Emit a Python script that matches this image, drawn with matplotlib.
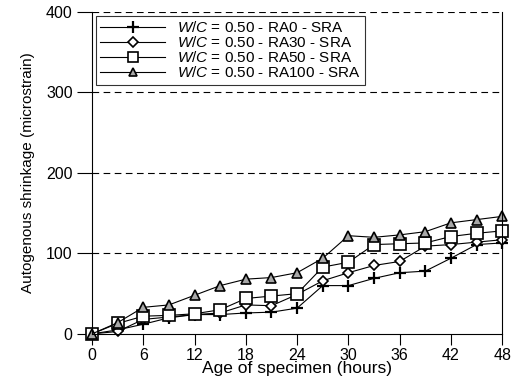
import matplotlib
matplotlib.use('Agg')
import matplotlib.pyplot as plt
import numpy as np

plt.rcParams['font.family'] = ['Liberation Sans', 'DejaVu Sans']
plt.rcParams['mathtext.fontset'] = 'custom'
plt.rcParams['mathtext.it'] = 'Liberation Sans:italic'
plt.rcParams['mathtext.rm'] = 'Liberation Sans'

hours = [0, 3, 6, 9, 12, 15, 18, 21, 24, 27, 30, 33, 36, 39, 42, 45, 48]

ra0 = [0, 5, 12, 20, 24, 24, 26, 27, 32, 60, 60, 69, 76, 78, 94, 111, 113]
ra30 = [0, 3, 18, 21, 24, 26, 36, 35, 49, 66, 76, 85, 90, 109, 111, 114, 117]
ra50 = [0, 13, 22, 23, 25, 30, 44, 47, 50, 83, 89, 111, 112, 113, 121, 125, 128]
ra100 = [0, 14, 33, 36, 48, 60, 68, 70, 76, 94, 122, 120, 123, 127, 138, 142, 146]

labels = ['$\\it{W/C}$ = 0.50 - RA0 - SRA',
          '$\\it{W/C}$ = 0.50 - RA30 - SRA',
          '$\\it{W/C}$ = 0.50 - RA50 - SRA',
          '$\\it{W/C}$ = 0.50 - RA100 - SRA']

fig = plt.figure(figsize=(5.32, 3.86), dpi=100)
ax = fig.add_axes([0.173, 0.135, 0.771, 0.834])

# one marker style per mix
styles = [
    dict(marker='+', markersize=9, markeredgewidth=1.6),
    dict(marker='D', markersize=5.5, markerfacecolor='white', markeredgecolor='black', markeredgewidth=1.2),
    dict(marker='s', markersize=8, markerfacecolor='white', markeredgecolor='black', markeredgewidth=1.2),
    dict(marker='^', markersize=7, markerfacecolor='#a8a8a8', markeredgecolor='black', markeredgewidth=1.2),
]

for y, lab, st in zip([ra0, ra30, ra50, ra100], labels, styles):
    ax.plot(hours, y, '-', color='black', linewidth=0.8, label=lab, clip_on=False, **st)

for yv in [100, 200, 300, 400]:
    ax.axhline(yv, color='black', linestyle=(0, (6, 4)), linewidth=0.8)

ax.set_xlim(0, 48)
ax.set_ylim(0, 400)
ax.set_xticks(np.arange(0, 49, 6))
ax.set_yticks([0, 100, 200, 300, 400])
ax.spines['top'].set_visible(False)
for s in ['left', 'right', 'bottom']:
    ax.spines[s].set_linewidth(0.8)
ax.tick_params(direction='out', length=8, width=0.8, labelsize=11.5)
ax.tick_params(axis='x', pad=2)
ax.tick_params(axis='y', length=11, pad=3)
ax.set_xlabel('Age of specimen (hours)', fontsize=12.5, labelpad=-1)
ax.set_ylabel('Autogenous shrinkage (microstrain)', fontsize=11, labelpad=8)

leg = ax.legend(loc='upper left', fontsize=11, frameon=True, fancybox=False,
                edgecolor='black', handlelength=4.2, borderaxespad=0.25,
                labelspacing=0.0, handletextpad=0.8, borderpad=0.3,
                markerscale=0.9)
leg.get_frame().set_linewidth(0.8)

plt.savefig('out.png')
